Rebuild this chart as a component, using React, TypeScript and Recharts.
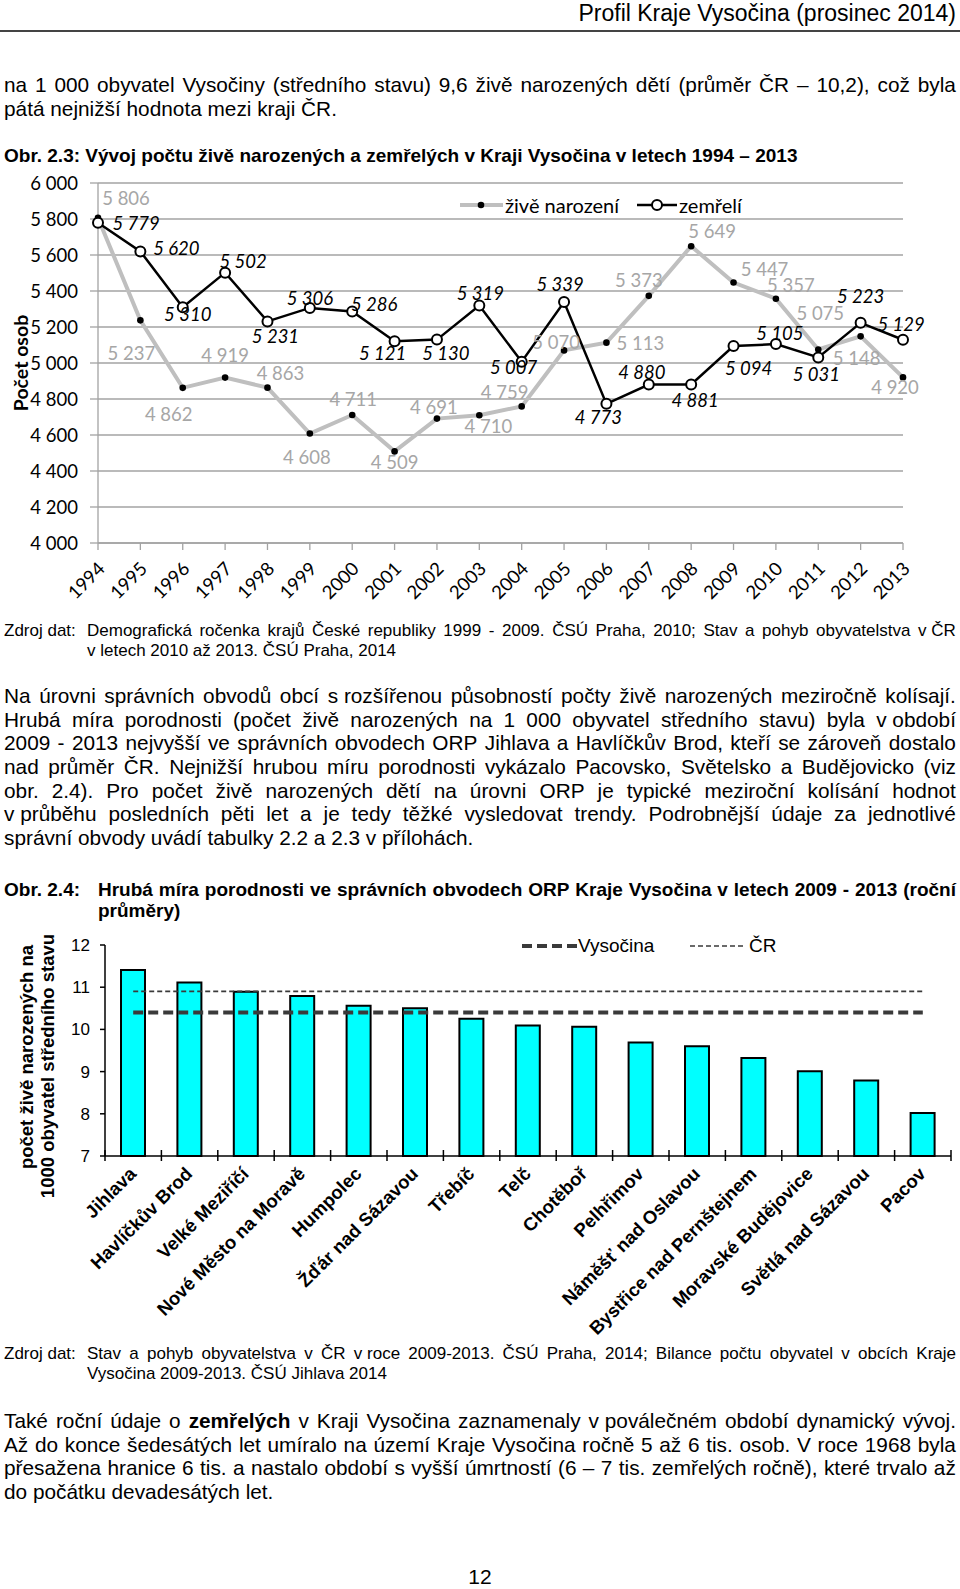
import React from 'react';
import { LineChart, Line, XAxis, YAxis, CartesianGrid, LabelList, ComposedChart, Bar } from 'recharts';

// ---------- Data: Obr. 2.3 ----------
const YEARS = ['1994', '1995', '1996', '1997', '1998', '1999', '2000', '2001', '2002', '2003', '2004', '2005', '2006', '2007', '2008', '2009', '2010', '2011', '2012', '2013'];
const BIRTHS = [5806, 5237, 4862, 4919, 4863, 4608, 4711, 4509, 4691, 4710, 4759, 5070, 5113, 5373, 5649, 5447, 5357, 5075, 5148, 4920];
const DEATHS = [5779, 5620, 5310, 5502, 5231, 5306, 5286, 5121, 5130, 5319, 5007, 5339, 4773, 4880, 4881, 5094, 5105, 5031, 5223, 5129];
const Y1_TICKS = [4000, 4200, 4400, 4600, 4800, 5000, 5200, 5400, 5600, 5800, 6000];

// ---------- Data: Obr. 2.4 ----------
const ORP_NAMES = ['Jihlava', 'Havlíčkův Brod', 'Velké Meziříčí', 'Nové Město na Moravě', 'Humpolec', 'Žďár nad Sázavou', 'Třebíč', 'Telč', 'Chotěboř', 'Pelhřimov', 'Náměšť nad Oslavou', 'Bystřice nad Pernštejnem', 'Moravské Budějovice', 'Světlá nad Sázavou', 'Pacov'];
const ORP_RATES = [11.41, 11.11, 10.89, 10.79, 10.56, 10.5, 10.25, 10.09, 10.06, 9.69, 9.6, 9.32, 9.01, 8.79, 8.02];
const VYSOCINA_AVG = 10.4;
const CR_AVG = 10.9;
const Y2_TICKS = [7, 8, 9, 10, 11, 12];

// label placement (offset of label centre from its point), layout only
const BIRTH_LABEL_OFFSETS = [[28, -20], [-9, 33], [-14, 26], [0, -23], [13, -15], [-3, 23], [1, -16], [0, 11], [-3, -12], [9, 11], [-17, -14], [-8, -8], [34, 0], [-10, -16], [21, -15], [31, -14], [15, -14], [2, -37], [-4, 22], [-8, 10]];
const DEATH_LABEL_OFFSETS = [[38, 0], [36, -3], [5, 7], [18, -12], [8, 15], [0, -10], [22, -8], [-12, 12], [9, 13], [1, -13], [-8, 5], [-4, -18], [-8, 13], [-7, -13], [4, 16], [15, 22], [4, -11], [-2, 17], [0, -27], [-2, -16]];

const lineData = YEARS.map((year, i) => ({ year, births: BIRTHS[i], deaths: DEATHS[i] }));
const barData = ORP_NAMES.map((name, i) => ({ name, rate: ORP_RATES[i], vys: VYSOCINA_AVG, cr: CR_AVG }));

const NUM_FONT = 'Lato, "Open Sans", sans-serif';
const TXT_FONT = '"Liberation Sans", Arial, sans-serif';
const GRID = '#a3a3a3';

const fmt = (v: any) => String(v).replace(/\B(?=(\d{3})+(?!\d))/g, ' ');

const BirthDot = (p: any) =>
  p.cx == null ? null : <circle key={`bd-${p.index}`} cx={p.cx} cy={p.cy} r={3.3} fill="#000" />;
const DeathDot = (p: any) =>
  p.cx == null ? null : <circle key={`dd-${p.index}`} cx={p.cx} cy={p.cy} r={5} fill="#fff" stroke="#000" strokeWidth={2} />;

const makeLabel = (offsets: number[][], color: string, italic: boolean) => (p: any) => {
  const x = p.x ?? p.viewBox?.x;
  const y = p.y ?? p.viewBox?.y;
  if (x == null || y == null) return null;
  const o = offsets[p.index] || [0, -15];
  return (
    <text
      key={`lb-${p.index}`}
      x={x + o[0]}
      y={y + o[1]}
      textAnchor="middle"
      dominantBaseline="central"
      fontFamily={NUM_FONT}
      fontSize={18.5}
      fontStyle={italic ? 'italic' : 'normal'}
      fill={color}
    >
      {fmt(p.value)}
    </text>
  );
};
const birthLabel = makeLabel(BIRTH_LABEL_OFFSETS, '#a6a6a6', false);
const deathLabel = makeLabel(DEATH_LABEL_OFFSETS, '#000', true);

const YearTick = (p: any) => {
  const { x, y, payload } = p;
  const ex = x + 8;
  const ey = y + 20;
  return (
    <text x={ex} y={ey} transform={`rotate(-45 ${ex} ${ey})`} textAnchor="end" fontFamily={NUM_FONT} fontSize={18.5} fill="#000">
      {payload.value}
    </text>
  );
};

const CH2_LEFT = 105;
const CH2_RIGHT_MARGIN = 9;
const BAND2 = (960 - CH2_LEFT - CH2_RIGHT_MARGIN) / ORP_NAMES.length;

const OrpTick = (p: any) => {
  const { x, y, payload, index } = p;
  const ex = x + 4;
  const ey = y + 19;
  return (
    <g>
      <line x1={x - BAND2 / 2} x2={x - BAND2 / 2} y1={y - 6} y2={y + 5} stroke="#000" strokeWidth={1.5} />
      {index === ORP_NAMES.length - 1 && (
        <line x1={x + BAND2 / 2} x2={x + BAND2 / 2} y1={y - 6} y2={y + 5} stroke="#000" strokeWidth={1.5} />
      )}
      <text x={ex} y={ey} transform={`rotate(-45 ${ex} ${ey})`} textAnchor="end" fontFamily={TXT_FONT} fontWeight={700} fontSize={18.5} fill="#000">
        {payload.value}
      </text>
    </g>
  );
};

// ---------- Text ----------
const PARA1 = [
  'na 1 000 obyvatel Vysočiny (středního stavu) 9,6 živě narozených dětí (průměr ČR – 10,2), což byla',
];
const PARA1_LAST = 'pátá nejnižší hodnota mezi kraji ČR.';
const SRC1 = 'Demografická ročenka krajů České republiky 1999 - 2009. ČSÚ Praha, 2010; Stav a pohyb obyvatelstva v\u00a0ČR';
const SRC1_LAST = 'v letech 2010 až 2013. ČSÚ Praha, 2014';
const PARA2 = [
  'Na úrovni správních obvodů obcí s\u00a0rozšířenou působností počty živě narozených meziročně kolísají.',
  'Hrubá míra porodnosti (počet živě narozených na 1 000 obyvatel středního stavu) byla v\u00a0období',
  '2009 - 2013 nejvyšší ve správních obvodech ORP Jihlava a Havlíčkův Brod, kteří se zároveň dostalo',
  'nad průměr ČR. Nejnižší hrubou míru porodnosti vykázalo Pacovsko, Světelsko a Budějovicko (viz',
  'obr. 2.4). Pro počet živě narozených dětí na úrovni ORP je typické meziroční kolísání hodnot',
  'v\u00a0průběhu posledních pěti let a je tedy těžké vysledovat trendy. Podrobnější údaje za jednotlivé',
];
const PARA2_LAST = 'správní obvody uvádí tabulky 2.2 a 2.3 v\u00a0přílohách.';
const TITLE24 = 'Hrubá míra porodnosti ve správních obvodech ORP Kraje Vysočina v letech 2009 - 2013 (roční';
const TITLE24_LAST = 'průměry)';
const SRC2 = 'Stav a pohyb obyvatelstva v ČR v\u00a0roce 2009-2013. ČSÚ Praha, 2014; Bilance počtu obyvatel v obcích Kraje';
const SRC2_LAST = 'Vysočina 2009-2013. ČSÚ Jihlava 2014';
const PARA3 = [
  'Také roční údaje o **zemřelých** v Kraji Vysočina zaznamenaly v\u00a0poválečném období dynamický vývoj.',
  'Až do konce šedesátých let umíralo na území Kraje Vysočina ročně 5 až 6 tis. osob. V roce 1968 byla',
  'přesažena hranice 6 tis. a nastalo období s vyšší úmrtností (6 – 7 tis. zemřelých ročně), které trvalo až',
];
const PARA3_LAST = 'do počátku devadesátých let.';

// words as flex items (justified line)
const words = (text: string) =>
  text.split(' ').map((w, i) => {
    const bold = w.startsWith('**');
    return (
      <span key={i} style={bold ? { fontWeight: 700 } : undefined}>
        {w.replace(/\*\*/g, '')}
      </span>
    );
  });

// inline runs keeping spaces (plain line)
const runs = (text: string) =>
  text.split('**').map((seg, i) => (
    <span key={i} style={i % 2 === 1 ? { fontWeight: 700 } : undefined}>
      {seg}
    </span>
  ));

const JLine = ({ text, top, left = 4, right = 4, size = 20.8, lh = 23.6, bold = false }: any) => (
  <div
    style={{
      position: 'absolute', top, left, right, height: lh, display: 'flex', justifyContent: 'space-between',
      whiteSpace: 'pre', fontSize: size, lineHeight: `${lh}px`, fontWeight: bold ? 700 : 400,
    }}
  >
    {words(text)}
  </div>
);

const PLine = ({ text, top, left = 4, size = 20.8, lh = 23.6, bold = false }: any) => (
  <div style={{ position: 'absolute', top, left, whiteSpace: 'pre', fontSize: size, lineHeight: `${lh}px`, fontWeight: bold ? 700 : 400 }}>
    {runs(text)}
  </div>
);

const Rot = ({ cx, cy, children, style }: any) => (
  <div
    style={{
      position: 'absolute', left: cx, top: cy, transform: 'translate(-50%, -50%) rotate(-90deg)',
      whiteSpace: 'nowrap', ...style,
    }}
  >
    {children}
  </div>
);

const P2_TOP = 684.2;
const P3_TOP = 1409;
const LH = 23.6;
const SRC2_TOP = 1344;

export default function App() {
  return (
    <div
      style={{
        position: 'absolute', left: 0, top: 0, width: 960, height: 1589, background: '#fff',
        fontFamily: TXT_FONT, color: '#000', overflow: 'hidden',
      }}
    >
      {/* header */}
      <div style={{ position: 'absolute', top: 0, right: 4, fontSize: 23, lineHeight: '26px', whiteSpace: 'nowrap' }}>
        Profil Kraje Vysočina (prosinec 2014)
      </div>
      <div style={{ position: 'absolute', top: 30, left: 0, width: 960, height: 2, background: '#444' }} />

      {/* paragraph 1 */}
      {PARA1.map((t, i) => (
        <JLine key={i} text={t} top={73 + i * LH} />
      ))}
      <PLine text={PARA1_LAST} top={73 + PARA1.length * LH} />

      {/* title 2.3 */}
      <div style={{ position: 'absolute', top: 145.4, left: 4, fontSize: 19, lineHeight: '22px', fontWeight: 700, whiteSpace: 'nowrap' }}>
        Obr. 2.3: Vývoj počtu živě narozených a zemřelých v Kraji Vysočina v letech 1994 – 2013
      </div>

      {/* chart 2.3 */}
      <div style={{ position: 'absolute', left: 0, top: 170 }}>
        <LineChart width={960} height={460} data={lineData} margin={{ top: 13, right: 57, bottom: 0, left: 0 }}>
          <CartesianGrid vertical={false} stroke={GRID} strokeWidth={1.3} />
          <XAxis
            dataKey="year"
            interval={0}
            height={87}
            tickSize={7}
            tickMargin={0}
            axisLine={{ stroke: GRID, strokeWidth: 1.3 }}
            tickLine={{ stroke: GRID, strokeWidth: 1.3 }}
            tick={<YearTick />}
          />
          <YAxis
            width={98}
            domain={[4000, 6000]}
            ticks={Y1_TICKS}
            interval={0}
            tickSize={8}
            tickMargin={12}
            tickFormatter={fmt}
            axisLine={{ stroke: GRID, strokeWidth: 1.3 }}
            tickLine={{ stroke: GRID, strokeWidth: 1.3 }}
            tick={{ fontFamily: NUM_FONT, fontSize: 18.5, fill: '#000' }}
          />
          <Line
            dataKey="births"
            stroke="#bfbfbf"
            strokeWidth={4}
            dot={BirthDot}
            activeDot={false}
            isAnimationActive={false}
          >
            <LabelList dataKey="births" content={birthLabel} />
          </Line>
          <Line
            dataKey="deaths"
            stroke="#000"
            strokeWidth={2.5}
            dot={DeathDot}
            activeDot={false}
            isAnimationActive={false}
          >
            <LabelList dataKey="deaths" content={deathLabel} />
          </Line>
        </LineChart>
      </div>
      <Rot cx={20} cy={363} style={{ fontFamily: NUM_FONT, fontWeight: 700, fontSize: 19.5 }}>
        Počet osob
      </Rot>
      {/* legend 2.3 */}
      <svg style={{ position: 'absolute', left: 455, top: 195 }} width={230} height={20}>
        <line x1={5} x2={48} y1={10} y2={10} stroke="#bfbfbf" strokeWidth={4} />
        <circle cx={26} cy={10} r={3.3} fill="#000" />
        <line x1={182} x2={222} y1={10} y2={10} stroke="#000" strokeWidth={2.5} />
        <circle cx={202} cy={10} r={5} fill="#fff" stroke="#000" strokeWidth={2} />
      </svg>
      <div style={{ position: 'absolute', left: 505, top: 193, fontFamily: NUM_FONT, fontSize: 20, lineHeight: '24px', whiteSpace: 'nowrap' }}>
        živě narození
      </div>
      <div style={{ position: 'absolute', left: 679, top: 193, fontFamily: NUM_FONT, fontSize: 20, lineHeight: '24px', whiteSpace: 'nowrap' }}>
        zemřelí
      </div>

      {/* source 1 */}
      <PLine text="Zdroj dat:" top={620.5} size={17} lh={20} />
      <JLine text={SRC1} top={620.5} left={87} size={17} lh={20} />
      <PLine text={SRC1_LAST} top={640.5} left={87} size={17} lh={20} />

      {/* paragraph 2 */}
      {PARA2.map((t, i) => (
        <JLine key={i} text={t} top={P2_TOP + i * LH} />
      ))}
      <PLine text={PARA2_LAST} top={P2_TOP + PARA2.length * LH} />

      {/* title 2.4 */}
      <PLine text="Obr. 2.4:" top={879} size={19} lh={21} bold />
      <JLine text={TITLE24} top={879} left={98} size={19} lh={21} bold />
      <PLine text={TITLE24_LAST} top={900} left={98} size={19} lh={21} bold />

      {/* chart 2.4 */}
      <div style={{ position: 'absolute', left: 0, top: 920 }}>
        <ComposedChart width={960} height={418} data={barData} margin={{ top: 25, right: CH2_RIGHT_MARGIN, bottom: 0, left: 0 }}>
          <XAxis
            dataKey="name"
            interval={0}
            height={182}
            tickSize={0}
            tickMargin={0}
            tickLine={false}
            axisLine={{ stroke: '#000', strokeWidth: 1.5 }}
            tick={<OrpTick />}
          />
          <YAxis
            width={CH2_LEFT}
            domain={[7, 12]}
            ticks={Y2_TICKS}
            interval={0}
            tickSize={5}
            tickMargin={10}
            axisLine={{ stroke: '#000', strokeWidth: 1.5 }}
            tickLine={{ stroke: '#000', strokeWidth: 1.5 }}
            tick={{ fontFamily: TXT_FONT, fontSize: 17, fill: '#000' }}
          />
          <Bar dataKey="rate" barSize={24} fill="#00ffff" stroke="#000" strokeWidth={2} isAnimationActive={false} />
          <Line dataKey="cr" stroke="#3a3a3a" strokeWidth={1.6} strokeDasharray="5 3" dot={false} activeDot={false} isAnimationActive={false} />
          <Line dataKey="vys" stroke="#3a3a3a" strokeWidth={4} strokeDasharray="10 5" dot={false} activeDot={false} isAnimationActive={false} />
        </ComposedChart>
      </div>
      <Rot cx={27} cy={1057} style={{ fontWeight: 700, fontSize: 18.5 }}>
        počet živě narozených na
      </Rot>
      <Rot cx={48} cy={1066} style={{ fontWeight: 700, fontSize: 18.5 }}>
        1000 obyvatel středního stavu
      </Rot>
      {/* legend 2.4 */}
      <svg style={{ position: 'absolute', left: 520, top: 936 }} width={240} height={20}>
        <line x1={2} x2={57} y1={10} y2={10} stroke="#3a3a3a" strokeWidth={4} strokeDasharray="10 5" />
        <line x1={170} x2={224} y1={10} y2={10} stroke="#3a3a3a" strokeWidth={1.6} strokeDasharray="5 3" />
      </svg>
      <div style={{ position: 'absolute', left: 578, top: 935, fontSize: 19, lineHeight: '22px', whiteSpace: 'nowrap' }}>Vysočina</div>
      <div style={{ position: 'absolute', left: 749, top: 935, fontSize: 19, lineHeight: '22px', whiteSpace: 'nowrap' }}>ČR</div>

      {/* source 2 */}
      <PLine text="Zdroj dat:" top={SRC2_TOP} size={17} lh={20} />
      <JLine text={SRC2} top={SRC2_TOP} left={87} size={17} lh={20} />
      <PLine text={SRC2_LAST} top={SRC2_TOP + 20} left={87} size={17} lh={20} />

      {/* paragraph 3 */}
      {PARA3.map((t, i) => (
        <JLine key={i} text={t} top={P3_TOP + i * LH} />
      ))}
      <PLine text={PARA3_LAST} top={P3_TOP + PARA3.length * LH} />

      {/* page number */}
      <div style={{ position: 'absolute', top: 1565, left: 0, width: 960, textAlign: 'center', fontSize: 21, lineHeight: '24px' }}>12</div>
    </div>
  );
}
